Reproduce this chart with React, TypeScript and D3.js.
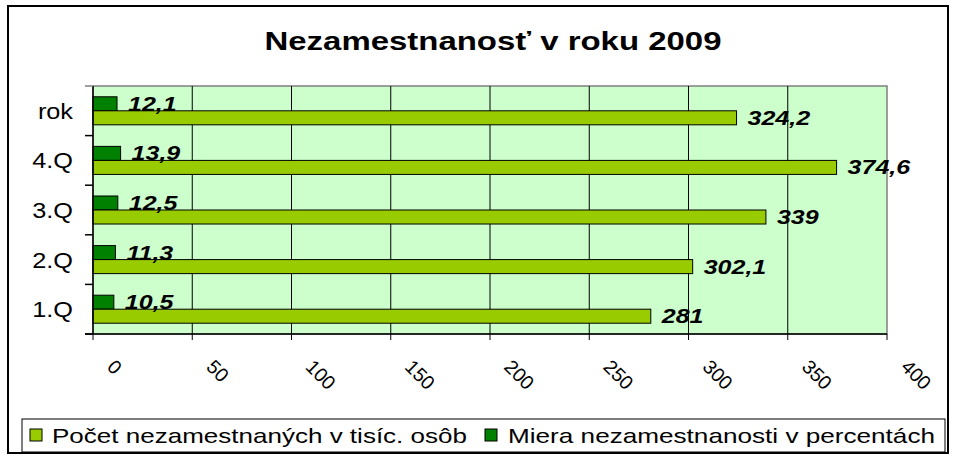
import React from "react";
import * as d3 from "d3";

const categories = ["rok", "4.Q", "3.Q", "2.Q", "1.Q"];
const countValues = [324.2, 374.6, 339, 302.1, 281];
const rateValues = [12.1, 13.9, 12.5, 11.3, 10.5];
const xTicks = [0, 50, 100, 150, 200, 250, 300, 350, 400];
const seriesNames = ["Miera nezamestnanosti v percentách", "Počet nezamestnaných v tisíc. osôb"];
const seriesKeys = ["rate", "count"];
const title = "Nezamestnanosť v roku 2009";

const W = 955;
const H = 455;
const plot = { left: 93, right: 887, top: 86, bottom: 334 };
const FONT = "'Liberation Sans', Arimo, Arial, Helvetica, sans-serif";
const COLORS: Record<string, string> = { rate: "#008000", count: "#99CC00" };

const fmt = (v: number) => String(v).replace(".", ",");

export default function App() {
  const x = d3.scaleLinear().domain([0, 400]).range([plot.left, plot.right]);
  const y = d3.scaleBand().domain(categories).range([plot.top, plot.bottom]).padding(0);
  const inner = d3
    .scaleBand()
    .domain(seriesKeys)
    .range([0, y.bandwidth()])
    .paddingInner(0)
    .paddingOuter(0.77);

  const rows = categories.map((c, i) => ({ c, rate: rateValues[i], count: countValues[i] }));
  const bandEdges = categories.map((c) => y(c) as number).concat([plot.bottom]);
  const bh = inner.bandwidth();
  const ts = { fontFamily: FONT };

  return (
    <svg
      width={W}
      height={H}
      style={{ position: "absolute", left: 0, top: 0, background: "#fff", fontFamily: FONT }}
    >
      <rect x={8} y={6} width={940} height={447} fill="#fff" stroke="#000" strokeWidth={2} />
      <text
        x={493}
        y={50}
        textAnchor="middle"
        fontSize={25}
        fontWeight="bold"
        textLength={457}
        lengthAdjust="spacingAndGlyphs"
        style={ts}
      >
        {title}
      </text>

      {/* plot area */}
      <rect
        x={plot.left}
        y={plot.top}
        width={plot.right - plot.left}
        height={plot.bottom - plot.top}
        fill="#CCFFCC"
        stroke="#808080"
        strokeWidth={1.5}
      />
      {xTicks.slice(1, -1).map((t) => (
        <line key={"g" + t} x1={x(t)} x2={x(t)} y1={plot.top} y2={plot.bottom} stroke="#000" strokeWidth={1} />
      ))}

      {/* bars */}
      {rows.map((r) => (
        <g key={r.c}>
          {seriesKeys.map((k) => {
            const v = (r as any)[k] as number;
            const y0 = (y(r.c) as number) + (inner(k) as number);
            return (
              <rect
                key={k}
                x={x(0)}
                y={y0}
                width={x(v) - x(0)}
                height={bh}
                fill={COLORS[k]}
                stroke="#000"
                strokeWidth={1}
              />
            );
          })}
        </g>
      ))}

      {/* axes */}
      <line x1={plot.left} x2={plot.left} y1={plot.top} y2={plot.bottom} stroke="#000" strokeWidth={1.5} />
      <line x1={plot.left - 8} x2={plot.right} y1={plot.bottom} y2={plot.bottom} stroke="#000" strokeWidth={1.5} />
      {bandEdges.map((e, i) => (
        <line key={"yt" + i} x1={plot.left - 8} x2={plot.left} y1={e} y2={e} stroke={i === 0 ? "#808080" : "#000"} strokeWidth={1.5} />
      ))}
      {xTicks.map((t) => (
        <line key={"xt" + t} x1={x(t)} x2={x(t)} y1={plot.bottom} y2={plot.bottom + 6} stroke="#000" strokeWidth={1} />
      ))}

      {/* data labels (drawn above bars) */}
      {rows.map((r) =>
        seriesKeys.map((k) => {
          const v = (r as any)[k] as number;
          const y0 = (y(r.c) as number) + (inner(k) as number);
          return (
            <text
              key={"dl" + r.c + k}
              transform={`translate(${x(v) + 11},${y0 + bh / 2 + 7}) scale(1.22,1)`}
              fontSize={20.5}
              fontWeight="bold"
              fontStyle="italic"
              fill="#000"
              style={ts}
            >
              {fmt(v)}
            </text>
          );
        })
      )}

      {xTicks.map((t) => (
        <text
          key={"xl" + t}
          transform={`translate(${x(t) + 13},368) rotate(45)`}
          fontSize={19.5}
          fill="#000"
          style={ts}
        >
          {t}
        </text>
      ))}
      {categories.map((c) => (
        <text
          key={"yl" + c}
          transform={`translate(73,${(y(c) as number) + y.bandwidth() / 2 + 8}) scale(1.15,1)`}
          textAnchor="end"
          fontSize={22}
          fill="#000"
          style={ts}
        >
          {c}
        </text>
      ))}

      {/* legend */}
      <rect x={22} y={419} width={923} height={33} fill="#fff" stroke="#000" strokeWidth={1} />
      <rect x={30} y={429} width={12} height={12} fill={COLORS.count} stroke="#000" strokeWidth={1} />
      <text x={52} y={443} fontSize={21} textLength={415} lengthAdjust="spacingAndGlyphs" style={ts}>
        {seriesNames[1]}
      </text>
      <rect x={485} y={429} width={12} height={12} fill={COLORS.rate} stroke="#000" strokeWidth={1} />
      <text x={508} y={443} fontSize={21} textLength={427} lengthAdjust="spacingAndGlyphs" style={ts}>
        {seriesNames[0]}
      </text>
    </svg>
  );
}
